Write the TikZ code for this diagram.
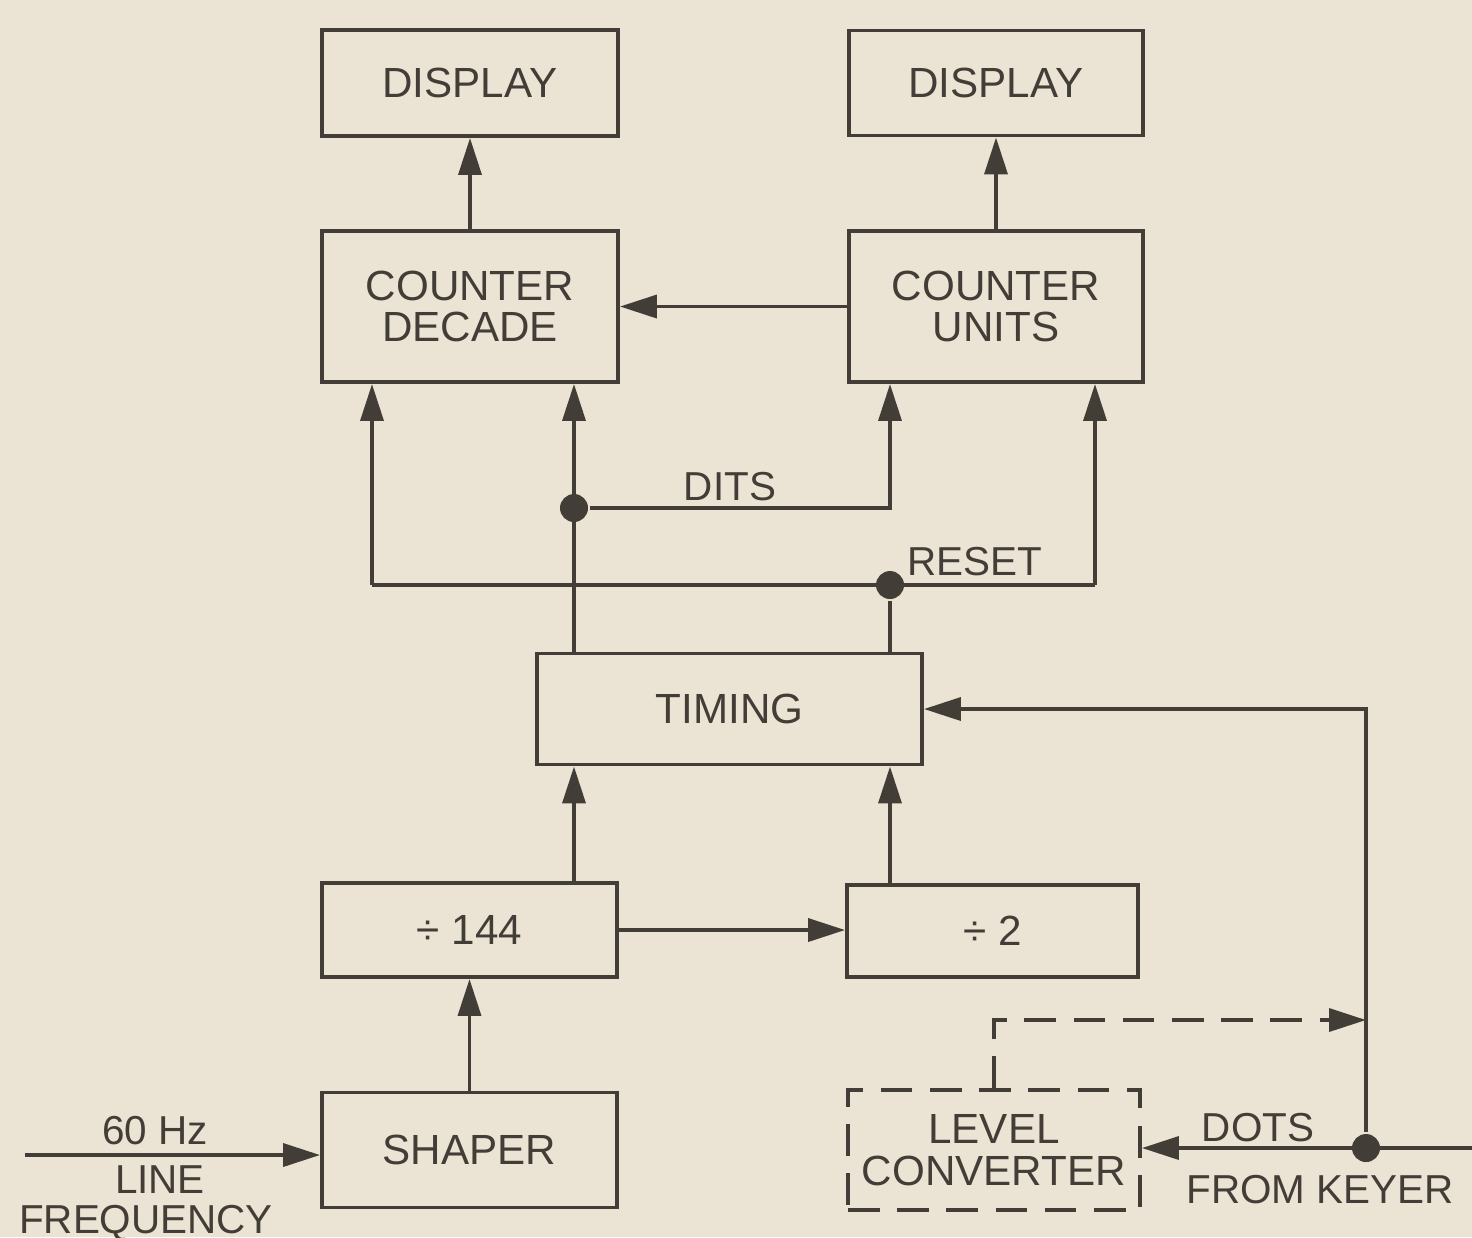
\documentclass[tikz,border=0pt]{standalone}
\usepackage{fontspec}
\setmainfont{Liberation Sans}
\usetikzlibrary{arrows.meta}
\definecolor{paperbeige}{HTML}{EBE3D3}
\definecolor{inkgray}{HTML}{423D37}

\begin{document}
\begin{tikzpicture}[>={Triangle[length=10.5pt,width=6.5pt]}, line width=1.1pt,
  draw=inkgray, text=inkgray, font=\fontsize{12}{11.5}\selectfont,
  block/.style={draw=inkgray, line width=1.1pt, align=center, inner sep=0pt},
  tag/.style={inner sep=1pt, font=\fontsize{11.5}{11.5}\selectfont},
  dotjoin/.style={circle, fill=inkgray, minimum size=0.28cm, inner sep=0pt}]
  \fill[paperbeige] (0,0) rectangle (14.72,-12.37);
  \useasboundingbox (0,0) rectangle (14.72,-12.37);

  \node[block, minimum width=2.96cm, minimum height=1.06cm] (displayL) at (4.70,-0.83) {DISPLAY};
  \node[block, minimum width=2.94cm, minimum height=1.05cm] (displayR) at (9.96,-0.83) {DISPLAY};
  \node[block, minimum width=2.96cm, minimum height=1.51cm] (decade) at (4.70,-3.065) {COUNTER\\DECADE};
  \node[block, minimum width=2.94cm, minimum height=1.51cm] (units) at (9.96,-3.065) {COUNTER\\UNITS};
  \node[block, minimum width=3.85cm, minimum height=1.11cm] (timing) at (7.295,-7.09) {TIMING};
  \node[block, minimum width=2.95cm, minimum height=0.94cm] (div144) at (4.695,-9.30) {÷ 144};
  \node[block, minimum width=2.91cm, minimum height=0.92cm] (div2) at (9.925,-9.31) {÷ 2};
  \node[block, minimum width=2.95cm, minimum height=1.15cm] (shaper) at (4.695,-11.50) {SHAPER};
  \node[block, dashed, dash pattern=on 9pt off 5pt, minimum width=2.92cm, minimum height=1.20cm, font=\fontsize{12}{12}\selectfont] (level) at (9.94,-11.50) {LEVEL\\CONVERTER};

  \node[dotjoin] (ditsdot) at (5.74,-5.08) {};
  \node[dotjoin] (resetdot) at (8.90,-5.85) {};
  \node[dotjoin] (keydot) at (13.66,-11.48) {};
  \coordinate (resetL) at (3.72,-5.85);
  \coordinate (resetR) at (10.95,-5.85);
  \coordinate (linein) at (0.25,-11.55);
  \coordinate (keyin) at (14.72,-11.48);
  \coordinate (dashend) at (13.66,-10.20);

  % counters to displays
  \draw[->] (decade) -- (displayL);
  \draw[->] (units.north -| displayR) -- (displayR);
  \draw[->] (units.west) -- (decade.east);

  % dits and reset lines
  \draw[->] (timing.north -| ditsdot) -- (ditsdot |- decade.south);
  \draw[->] (ditsdot) -| (units.south -| resetdot);
  \draw (timing.north -| resetdot) -- (resetdot);
  \draw[->] (resetL) -- (resetL |- decade.south);
  \draw (resetL) -- (resetR);
  \draw[->] (resetR) -- (resetR |- units.south);
  \node[tag] (dits) at (7.30,-4.87) {DITS};
  \node[tag] (reset) at (9.75,-5.62) {RESET};

  % dividers to timing
  \draw[->] (div144.north -| ditsdot) -- (timing.south -| ditsdot);
  \draw[->] (div2.north -| resetdot) -- (timing.south -| resetdot);
  \draw[->] (div144.east) -- (div144.east -| div2.west);
  \draw[->] (shaper) -- (div144);

  % line frequency input
  \draw[->] (linein) -- (linein -| shaper.west);
  \node[tag] (hz) at (1.55,-11.31) {60 Hz};
  \node[tag] (line) at (1.60,-11.80) {LINE};
  \node[tag] (freq) at (1.46,-12.23) {FREQUENCY};

  % keyer input
  \draw[->] (keyin) -- (keyin -| level.east);
  \draw[->] (keydot) |- (timing.east);
  \draw[->, dashed, dash pattern=on 9pt off 5pt] (level.north) |- (dashend);
  \node[tag] (dots) at (12.58,-11.28) {DOTS};
  \node[tag] (keyer) at (13.20,-11.90) {FROM KEYER};
\end{tikzpicture}
\end{document}
